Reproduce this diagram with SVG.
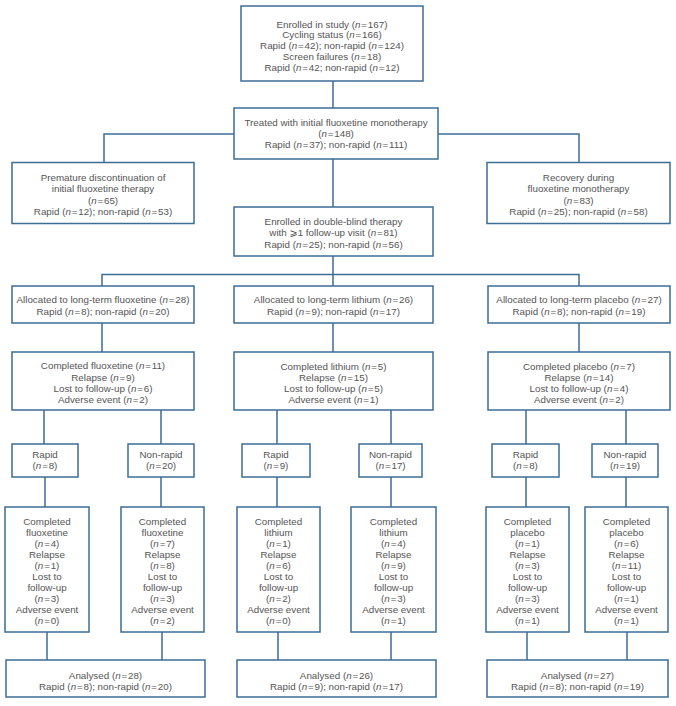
<svg xmlns="http://www.w3.org/2000/svg" width="676" height="706" viewBox="0 0 676 706">
<style>
rect{fill:#fff;stroke:#3c6e96;stroke-width:1.5}
.c path{fill:none;stroke:#3c6e96;stroke-width:1.5}
text{font-family:"Liberation Sans","DejaVu Sans",Arial,sans-serif;font-size:9.8px;fill:#555;text-anchor:middle}
.i{font-style:italic}
</style>
<rect x="0" y="0" width="676" height="706" style="fill:#fff;stroke:none"/>
<g class="c" id="connectors">
<path d="M333,81V108M333,159V207M234,134H104V162.5M438,134H579V162.5"/>
<path d="M333,256V274.5M102,286V274.5H579V286M333,274.5V286"/>
<path d="M102,323V352M333,323V352M579,323V352"/>
<path d="M44,410V444M161,410V444M277,410V444M391,410V444M526,410V444M626,410V444"/>
<path d="M45,477V507M161,477V507M277,477V507M391,477V507M526,477V507M626,477V507"/>
<path d="M47,632V660M162,632V660M278,632V660M391,632V660M527,632V660M627,632V660"/>
</g>
<g id="enrolled">
<rect x="241" y="6" width="182" height="75"/>
<text x="332" y="27.5">Enrolled in study (<tspan class="i">n</tspan>&#8202;=&#8202;167)</text>
<text x="332" y="38.3">Cycling status (<tspan class="i">n</tspan>&#8202;=&#8202;166)</text>
<text x="332" y="49">Rapid (<tspan class="i">n</tspan>&#8202;=&#8202;42); non-rapid (<tspan class="i">n</tspan>&#8202;=&#8202;124)</text>
<text x="332" y="59.8">Screen failures (<tspan class="i">n</tspan>&#8202;=&#8202;18)</text>
<text x="332" y="70.5">Rapid (<tspan class="i">n</tspan>&#8202;=&#8202;42; non-rapid (<tspan class="i">n</tspan>&#8202;=&#8202;12)</text>
</g>
<g id="treated">
<rect x="234" y="108" width="204" height="51"/>
<text x="336" y="126.2">Treated with initial fluoxetine monotherapy</text>
<text x="336" y="137.2">(<tspan class="i">n</tspan>&#8202;=&#8202;148)</text>
<text x="336" y="148.2">Rapid (<tspan class="i">n</tspan>&#8202;=&#8202;37); non-rapid (<tspan class="i">n</tspan>&#8202;=&#8202;111)</text>
</g>
<g id="premature">
<rect x="12" y="162.5" width="182" height="61"/>
<text x="103" y="181">Premature discontinuation of</text>
<text x="103" y="192.3">initial fluoxetine therapy</text>
<text x="103" y="203.6">(<tspan class="i">n</tspan>&#8202;=&#8202;65)</text>
<text x="103" y="214.7">Rapid (<tspan class="i">n</tspan>&#8202;=&#8202;12); non-rapid (<tspan class="i">n</tspan>&#8202;=&#8202;53)</text>
</g>
<g id="recovery">
<rect x="487" y="162.5" width="183" height="61"/>
<text x="578.5" y="181">Recovery during</text>
<text x="578.5" y="192.3">fluoxetine monotherapy</text>
<text x="578.5" y="203.6">(<tspan class="i">n</tspan>&#8202;=&#8202;83)</text>
<text x="578.5" y="214.9">Rapid (<tspan class="i">n</tspan>&#8202;=&#8202;25); non-rapid (<tspan class="i">n</tspan>&#8202;=&#8202;58)</text>
</g>
<g id="doubleblind">
<rect x="234" y="207" width="199" height="49"/>
<text x="333.5" y="225.2">Enrolled in double-blind therapy</text>
<text x="333.5" y="236.2">with ⩾1 follow-up visit (<tspan class="i">n</tspan>&#8202;=&#8202;81)</text>
<text x="333.5" y="248.3">Rapid (<tspan class="i">n</tspan>&#8202;=&#8202;25); non-rapid (<tspan class="i">n</tspan>&#8202;=&#8202;56)</text>
</g>
<g id="alloc-fluox">
<rect x="12" y="286" width="182" height="37"/>
<text x="103" y="302.8">Allocated to long-term fluoxetine (<tspan class="i">n</tspan>&#8202;=&#8202;28)</text>
<text x="103" y="314.5">Rapid (<tspan class="i">n</tspan>&#8202;=&#8202;8); non-rapid (<tspan class="i">n</tspan>&#8202;=&#8202;20)</text>
</g>
<g id="alloc-lith">
<rect x="234" y="286" width="199" height="37"/>
<text x="333.5" y="303.3">Allocated to long-term lithium (<tspan class="i">n</tspan>&#8202;=&#8202;26)</text>
<text x="333.5" y="314.5">Rapid (<tspan class="i">n</tspan>&#8202;=&#8202;9); non-rapid (<tspan class="i">n</tspan>&#8202;=&#8202;17)</text>
</g>
<g id="alloc-plac">
<rect x="488" y="286" width="182" height="37"/>
<text x="579" y="302.8">Allocated to long-term placebo (<tspan class="i">n</tspan>&#8202;=&#8202;27)</text>
<text x="579" y="314.5">Rapid (<tspan class="i">n</tspan>&#8202;=&#8202;8); non-rapid (<tspan class="i">n</tspan>&#8202;=&#8202;19)</text>
</g>
<g id="comp-fluox">
<rect x="12" y="352" width="182" height="58"/>
<text x="103" y="369">Completed fluoxetine (<tspan class="i">n</tspan>&#8202;=&#8202;11)</text>
<text x="103" y="380.5">Relapse (<tspan class="i">n</tspan>&#8202;=&#8202;9)</text>
<text x="103" y="391.7">Lost to follow-up (<tspan class="i">n</tspan>&#8202;=&#8202;6)</text>
<text x="103" y="402.5">Adverse event (<tspan class="i">n</tspan>&#8202;=&#8202;2)</text>
</g>
<g id="comp-lith">
<rect x="234" y="352" width="199" height="58"/>
<text x="333.5" y="369.5">Completed lithium (<tspan class="i">n</tspan>&#8202;=&#8202;5)</text>
<text x="333.5" y="380.5">Relapse (<tspan class="i">n</tspan>&#8202;=&#8202;15)</text>
<text x="333.5" y="391.5">Lost to follow-up (<tspan class="i">n</tspan>&#8202;=&#8202;5)</text>
<text x="333.5" y="402.5">Adverse event (<tspan class="i">n</tspan>&#8202;=&#8202;1)</text>
</g>
<g id="comp-plac">
<rect x="488" y="352" width="182" height="58"/>
<text x="579" y="369.5">Completed placebo (<tspan class="i">n</tspan>&#8202;=&#8202;7)</text>
<text x="579" y="380.5">Relapse (<tspan class="i">n</tspan>&#8202;=&#8202;14)</text>
<text x="579" y="391.5">Lost to follow-up (<tspan class="i">n</tspan>&#8202;=&#8202;4)</text>
<text x="579" y="402.5">Adverse event (<tspan class="i">n</tspan>&#8202;=&#8202;2)</text>
</g>
<g id="fl-rapid">
<rect x="12" y="444" width="66" height="33"/>
<text x="45" y="457.5">Rapid</text>
<text x="45" y="468.5">(<tspan class="i">n</tspan>&#8202;=&#8202;8)</text>
</g>
<g id="fl-nonrapid">
<rect x="128" y="444" width="66" height="33"/>
<text x="161" y="457.5">Non-rapid</text>
<text x="161" y="468.5">(<tspan class="i">n</tspan>&#8202;=&#8202;20)</text>
</g>
<g id="li-rapid">
<rect x="242" y="444" width="68" height="33"/>
<text x="276" y="457.5">Rapid</text>
<text x="276" y="468.5">(<tspan class="i">n</tspan>&#8202;=&#8202;9)</text>
</g>
<g id="li-nonrapid">
<rect x="359" y="444" width="63" height="33"/>
<text x="390.5" y="457.5">Non-rapid</text>
<text x="390.5" y="468.5">(<tspan class="i">n</tspan>&#8202;=&#8202;17)</text>
</g>
<g id="pl-rapid">
<rect x="492" y="444" width="67" height="33"/>
<text x="525.5" y="457.5">Rapid</text>
<text x="525.5" y="468.5">(<tspan class="i">n</tspan>&#8202;=&#8202;8)</text>
</g>
<g id="pl-nonrapid">
<rect x="592" y="444" width="66" height="33"/>
<text x="625" y="457.5">Non-rapid</text>
<text x="625" y="468.5">(<tspan class="i">n</tspan>&#8202;=&#8202;19)</text>
</g>
<g id="fl-rapid-detail">
<rect x="5" y="507" width="84" height="125"/>
<text x="47" y="524.5">Completed</text>
<text x="47" y="535.5">fluoxetine</text>
<text x="47" y="546.5">(<tspan class="i">n</tspan>&#8202;=&#8202;4)</text>
<text x="47" y="557.5">Relapse</text>
<text x="47" y="568.5">(<tspan class="i">n</tspan>&#8202;=&#8202;1)</text>
<text x="47" y="579.5">Lost to</text>
<text x="47" y="590.5">follow-up</text>
<text x="47" y="601.5">(<tspan class="i">n</tspan>&#8202;=&#8202;3)</text>
<text x="47" y="612.5">Adverse event</text>
<text x="47" y="623.5">(<tspan class="i">n</tspan>&#8202;=&#8202;0)</text>
</g>
<g id="fl-nonrapid-detail">
<rect x="121" y="507" width="83" height="125"/>
<text x="162.5" y="524.5">Completed</text>
<text x="162.5" y="535.5">fluoxetine</text>
<text x="162.5" y="546.5">(<tspan class="i">n</tspan>&#8202;=&#8202;7)</text>
<text x="162.5" y="557.5">Relapse</text>
<text x="162.5" y="568.5">(<tspan class="i">n</tspan>&#8202;=&#8202;8)</text>
<text x="162.5" y="579.5">Lost to</text>
<text x="162.5" y="590.5">follow-up</text>
<text x="162.5" y="601.5">(<tspan class="i">n</tspan>&#8202;=&#8202;3)</text>
<text x="162.5" y="612.5">Adverse event</text>
<text x="162.5" y="623.5">(<tspan class="i">n</tspan>&#8202;=&#8202;2)</text>
</g>
<g id="li-rapid-detail">
<rect x="237" y="507" width="83" height="125"/>
<text x="278.5" y="524.5">Completed</text>
<text x="278.5" y="535.5">lithium</text>
<text x="278.5" y="546.5">(<tspan class="i">n</tspan>&#8202;=&#8202;1)</text>
<text x="278.5" y="557.5">Relapse</text>
<text x="278.5" y="568.5">(<tspan class="i">n</tspan>&#8202;=&#8202;6)</text>
<text x="278.5" y="579.5">Lost to</text>
<text x="278.5" y="590.5">follow-up</text>
<text x="278.5" y="601.5">(<tspan class="i">n</tspan>&#8202;=&#8202;2)</text>
<text x="278.5" y="612.5">Adverse event</text>
<text x="278.5" y="623.5">(<tspan class="i">n</tspan>&#8202;=&#8202;0)</text>
</g>
<g id="li-nonrapid-detail">
<rect x="351" y="507" width="85" height="125"/>
<text x="393.5" y="524.5">Completed</text>
<text x="393.5" y="535.5">lithium</text>
<text x="393.5" y="546.5">(<tspan class="i">n</tspan>&#8202;=&#8202;4)</text>
<text x="393.5" y="557.5">Relapse</text>
<text x="393.5" y="568.5">(<tspan class="i">n</tspan>&#8202;=&#8202;9)</text>
<text x="393.5" y="579.5">Lost to</text>
<text x="393.5" y="590.5">follow-up</text>
<text x="393.5" y="601.5">(<tspan class="i">n</tspan>&#8202;=&#8202;3)</text>
<text x="393.5" y="612.5">Adverse event</text>
<text x="393.5" y="623.5">(<tspan class="i">n</tspan>&#8202;=&#8202;1)</text>
</g>
<g id="pl-rapid-detail">
<rect x="486" y="507" width="83" height="125"/>
<text x="527.5" y="524.5">Completed</text>
<text x="527.5" y="535.5">placebo</text>
<text x="527.5" y="546.5">(<tspan class="i">n</tspan>&#8202;=&#8202;1)</text>
<text x="527.5" y="557.5">Relapse</text>
<text x="527.5" y="568.5">(<tspan class="i">n</tspan>&#8202;=&#8202;3)</text>
<text x="527.5" y="579.5">Lost to</text>
<text x="527.5" y="590.5">follow-up</text>
<text x="527.5" y="601.5">(<tspan class="i">n</tspan>&#8202;=&#8202;3)</text>
<text x="527.5" y="612.5">Adverse event</text>
<text x="527.5" y="623.5">(<tspan class="i">n</tspan>&#8202;=&#8202;1)</text>
</g>
<g id="pl-nonrapid-detail">
<rect x="585" y="507" width="83" height="125"/>
<text x="626.5" y="524.5">Completed</text>
<text x="626.5" y="535.5">placebo</text>
<text x="626.5" y="546.5">(<tspan class="i">n</tspan>&#8202;=&#8202;6)</text>
<text x="626.5" y="557.5">Relapse</text>
<text x="626.5" y="568.5">(<tspan class="i">n</tspan>&#8202;=&#8202;11)</text>
<text x="626.5" y="579.5">Lost to</text>
<text x="626.5" y="590.5">follow-up</text>
<text x="626.5" y="601.5">(<tspan class="i">n</tspan>&#8202;=&#8202;1)</text>
<text x="626.5" y="612.5">Adverse event</text>
<text x="626.5" y="623.5">(<tspan class="i">n</tspan>&#8202;=&#8202;1)</text>
</g>
<g id="analysed-fluox">
<rect x="6" y="660" width="199" height="37"/>
<text x="105.5" y="678.5">Analysed (<tspan class="i">n</tspan>&#8202;=&#8202;28)</text>
<text x="105.5" y="689.5">Rapid (<tspan class="i">n</tspan>&#8202;=&#8202;8); non-rapid (<tspan class="i">n</tspan>&#8202;=&#8202;20)</text>
</g>
<g id="analysed-lith">
<rect x="237" y="660" width="199" height="37"/>
<text x="336.5" y="678.5">Analysed (<tspan class="i">n</tspan>&#8202;=&#8202;26)</text>
<text x="336.5" y="689.5">Rapid (<tspan class="i">n</tspan>&#8202;=&#8202;9); non-rapid (<tspan class="i">n</tspan>&#8202;=&#8202;17)</text>
</g>
<g id="analysed-plac">
<rect x="487" y="660" width="181" height="37"/>
<text x="577.5" y="678.5">Analysed (<tspan class="i">n</tspan>&#8202;=&#8202;27)</text>
<text x="577.5" y="689.5">Rapid (<tspan class="i">n</tspan>&#8202;=&#8202;8); non-rapid (<tspan class="i">n</tspan>&#8202;=&#8202;19)</text>
</g>
</svg>
